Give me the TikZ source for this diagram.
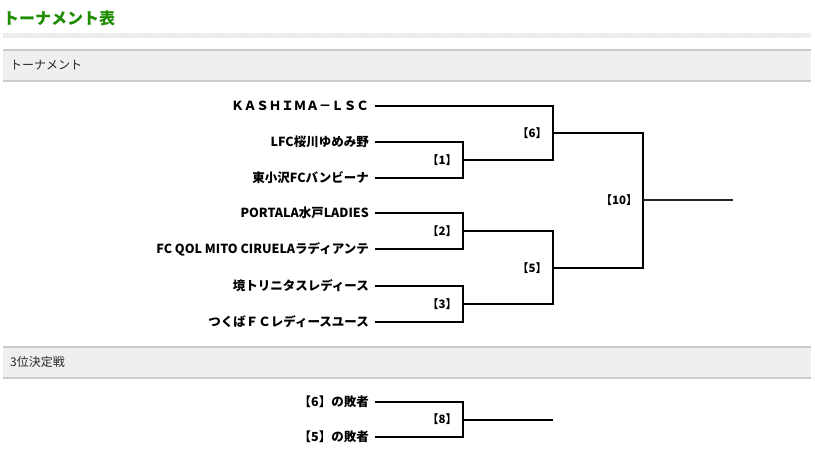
\documentclass[tikz,border=0pt]{standalone}
\usepackage{fontspec}
\setmainfont{Noto Sans CJK JP}
\begin{document}
\begin{tikzpicture}[x=1pt,y=-1pt,
  team/.style={anchor=east,inner xsep=6pt,inner ysep=0pt,font=\fontsize{12.5}{13}\selectfont\bfseries,text=black},
  lab/.style={inner sep=0pt,font=\fontsize{11.5}{12}\selectfont\bfseries,text=black},
  barline/.style={draw=barborder,line width=1.5},
  bartext/.style={anchor=west,inner sep=0pt,font=\fontsize{12}{13}\selectfont,text=txtdark},
  br/.style={line width=2,line join=miter},
  brthin/.style={line width=1.6,draw=black!85}
]
\definecolor{titlegreen}{RGB}{30,140,0}
\definecolor{barbg}{RGB}{239,239,239}
\definecolor{barborder}{RGB}{204,204,204}
\definecolor{txtdark}{RGB}{40,40,40}
\definecolor{stripe}{RGB}{218,218,218}
\useasboundingbox[fill=white] (0,0) rectangle (815,459);

% title
\node[anchor=west,inner sep=0pt,font=\fontsize{16}{18}\selectfont\bfseries,text=titlegreen] (title) at (3,18) {トーナメント表};
% hatched stripe
\begin{scope}
  \clip (3,33) rectangle (811,37.5);
  \foreach \x in {-6,-3,...,815} \draw[stripe,line width=1] (\x,38) -- ++(5,-5);
\end{scope}

% section bar 1
\fill[barbg] (3,50) rectangle (811,81);
\draw[barline] (3,50) -- (811,50);
\draw[barline] (3,81) -- (811,81);
\node[bartext] (sec1) at (10,65.5) {トーナメント};

% section bar 2
\fill[barbg] (3,347) rectangle (811,378);
\draw[barline] (3,347) -- (811,347);
\draw[barline] (3,378) -- (811,378);
\node[bartext] (sec2) at (10,362) {3位決定戦};

% teams
\node[team] (t1) at (375,106) {ＫＡＳＨＩＭＡ－ＬＳＣ};
\node[team] (t2) at (375,142) {LFC桜川ゆめみ野};
\node[team] (t3) at (375,178) {東小沢FCバンビーナ};
\node[team] (t4) at (375,213) {PORTALA水戸LADIES};
\node[team] (t5) at (375,249) {FC QOL MITO CIRUELAラディアンテ};
\node[team] (t6) at (375,286) {境トリニタスレディース};
\node[team] (t7) at (375,322) {つくばＦＣレディースユース};

% junctions
\coordinate (j1) at (463,160);
\coordinate (j2) at (463,231);
\coordinate (j3) at (463,304);
\coordinate (j6) at (553,133);
\coordinate (j5) at (553,268);
\coordinate (j10) at (643,200);
\coordinate (fin) at (733,200);

% labels
\node[lab] (l1) at (442,160) {【1】};
\node[lab] (l2) at (442,231) {【2】};
\node[lab] (l3) at (442,304) {【3】};
\node[lab] (l6) at (532,133) {【6】};
\node[lab] (l5) at (532,268) {【5】};
\node[lab] (l10) at (619,200) {【10】};

% brackets
\draw[br] (t2.east) -| (j1) |- (t3.east);
\draw[br] (t4.east) -| (j2) |- (t5.east);
\draw[br] (t6.east) -| (j3) |- (t7.east);
\draw[br] (t1.east) -| (j6) |- (j1);
\draw[br] (j2) -| (j5) |- (j3);
\draw[br] (j6) -| (j10) |- (j5);
\draw[brthin] (j10) -- (fin);

% third place
\node[team] (s1) at (375,402) {【6】の敗者};
\node[team] (s2) at (375,437) {【5】の敗者};
\coordinate (j8) at (463,419.5);
\coordinate (fin8) at (553,419.5);
\node[lab] (l8) at (442,419.5) {【8】};
\draw[br] (s1.east) -| (j8) |- (s2.east);
\draw[br] (j8) -- (fin8);
\end{tikzpicture}
\end{document}
